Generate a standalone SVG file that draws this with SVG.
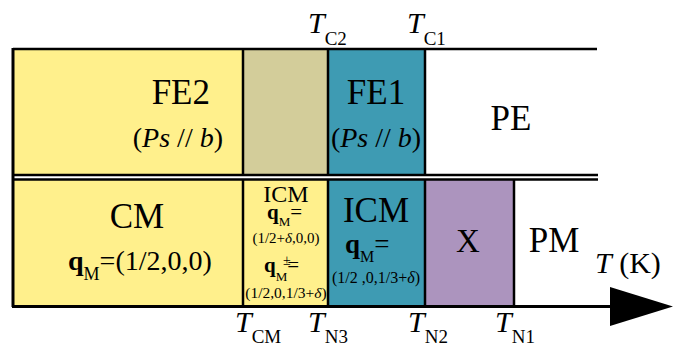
<svg xmlns="http://www.w3.org/2000/svg" width="674" height="347" viewBox="0 0 674 347" font-family="'Liberation Serif', 'DejaVu Serif', serif">
<style>
text{font-family:'Liberation Serif','DejaVu Serif',serif;fill:#000}
.b{stroke:#000;stroke-width:2.5;fill:none}
.it{font-style:italic}
.bd{font-weight:bold}
.big{font-size:35px}
.m{text-anchor:middle}
</style>
<rect width="674" height="347" fill="#fff"/>
<g id="fe2">
<rect x="13" y="49" width="230" height="126" fill="#fff08c"/>
<text class="big" x="210" y="104" text-anchor="end">FE2</text>
<text x="223" y="147" font-size="28" text-anchor="end">(<tspan class="it">Ps</tspan> // <tspan class="it">b</tspan>)</text>
</g>
<g id="mixed">
<rect x="243" y="49" width="85" height="126" fill="#d3cd9a"/>
</g>
<g id="fe1">
<rect x="328" y="49" width="97" height="126" fill="#3e9bb3"/>
<text class="big m" x="376" y="104">FE1</text>
<text class="m" x="376" y="147" font-size="28">(<tspan class="it">Ps</tspan> // <tspan class="it">b</tspan>)</text>
</g>
<g id="pe">
<text class="big m" x="511" y="130">PE</text>
</g>
<g id="cm">
<rect x="13" y="180" width="230" height="126" fill="#fff08c"/>
<text class="big m" x="137" y="228">CM</text>
<text x="68" y="270" font-size="28"><tspan class="bd">q</tspan><tspan font-size="18" dy="10">M</tspan><tspan dy="-10">=(1/2,0,0)</tspan></text>
</g>
<g id="icm1">
<rect x="243" y="180" width="85" height="126" fill="#fff08c"/>
<text class="m" x="286" y="202" font-size="24">ICM</text>
<text x="267" y="219" font-size="21"><tspan class="bd">q</tspan><tspan font-size="13" dy="7">M</tspan><tspan dy="-7">=</tspan></text>
<text class="m" x="286" y="243" font-size="15">(1/2+<tspan class="it">δ</tspan>,0,0)</text>
<text x="264" y="272" font-size="21"><tspan class="bd">q</tspan><tspan font-size="13" dy="9">M</tspan><tspan dy="-9">=</tspan></text>
<text x="283" y="265" font-size="14">±</text>
<text class="m" x="286" y="298" font-size="15.5">(1/2,0,1/3+<tspan class="it">δ</tspan>)</text>
</g>
<g id="icm2">
<rect x="328" y="180" width="97" height="126" fill="#3e9bb3"/>
<text class="m" x="376" y="222" font-size="35">ICM</text>
<text x="345" y="253" font-size="27"><tspan class="bd">q</tspan><tspan font-size="16" dy="9">M</tspan><tspan dy="-9">=</tspan></text>
<text class="m" x="376" y="283" font-size="16">(1/2 ,0,1/3+<tspan class="it">δ</tspan>)</text>
</g>
<g id="x">
<rect x="425" y="180" width="89" height="126" fill="#ac94be"/>
<text class="m" x="468" y="252" font-size="33">X</text>
</g>
<g id="pm">
<text class="big m" x="554" y="252">PM</text>
</g>
<g id="frame">
<line class="b" x1="13" y1="49" x2="597" y2="49"/>
<line class="b" x1="13" y1="175" x2="598" y2="175"/>
<line class="b" x1="13" y1="179.5" x2="598" y2="179.5"/>
<line x1="13" y1="48" x2="13" y2="307" stroke="#000" stroke-width="3"/>
<line class="b" x1="243" y1="49" x2="243" y2="175"/>
<line class="b" x1="328" y1="49" x2="328" y2="175"/>
<line class="b" x1="425" y1="49" x2="425" y2="175"/>
<line class="b" x1="243" y1="180" x2="243" y2="306"/>
<line class="b" x1="328" y1="180" x2="328" y2="306"/>
<line class="b" x1="425" y1="180" x2="425" y2="306"/>
<line class="b" x1="514" y1="180" x2="514" y2="306"/>
</g>
<g id="labels">
<text x="308" y="33" font-size="30"><tspan class="it">T</tspan><tspan font-size="19" dy="12">C2</tspan></text>
<text x="407" y="33" font-size="30"><tspan class="it">T</tspan><tspan font-size="19" dy="12">C1</tspan></text>
<text x="235" y="332" font-size="30"><tspan class="it">T</tspan><tspan font-size="19" dy="11">CM</tspan></text>
<text x="308" y="332" font-size="30"><tspan class="it">T</tspan><tspan font-size="19" dy="11">N3</tspan></text>
<text x="408" y="332" font-size="30"><tspan class="it">T</tspan><tspan font-size="19" dy="11">N2</tspan></text>
<text x="495" y="332" font-size="30"><tspan class="it">T</tspan><tspan font-size="19" dy="11">N1</tspan></text>
<text x="595" y="273" font-size="30"><tspan class="it">T</tspan> (K)</text>
</g>
<g id="connectors">
<line x1="12" y1="306.5" x2="612" y2="306.5" stroke="#000" stroke-width="3"/>
<polygon points="610,287 673,306.5 610,326" fill="#000"/>
</g>
</svg>
